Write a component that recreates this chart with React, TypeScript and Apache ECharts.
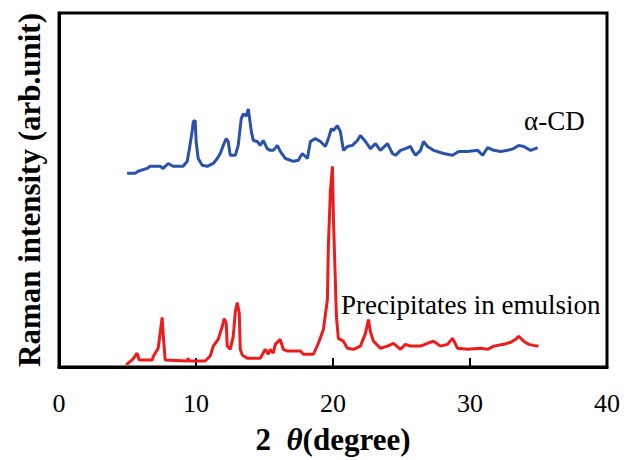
import React, { useEffect, useRef } from "react";
import * as echarts from "echarts";

const xTicks = [0, 10, 20, 30, 40];
const seriesNames = ["α-CD", "Precipitates in emulsion"];

const alphaCD: [number, number][] = [
  [4.97, 54.7], [5.56, 54.7], [5.77, 55.3], [6.43, 56.1], [6.65, 56.7], [7.38, 56.7], [7.6, 56.1],
  [7.97, 57.5], [8.33, 56.7], [9.06, 56.7], [9.36, 58.1], [9.5, 61.2], [9.72, 66.5], [9.8, 69.3],
  [9.94, 69.6], [10.01, 63.7], [10.16, 58.9], [10.45, 57.0], [10.82, 56.7], [11.26, 57.5],
  [11.55, 58.9], [11.77, 60.3], [11.99, 62.6], [12.21, 64.5], [12.35, 63.7], [12.5, 59.8],
  [12.87, 59.8], [13.08, 62.6], [13.3, 70.1], [13.45, 71.5], [13.67, 70.9], [13.82, 72.9],
  [14.04, 66.5], [14.18, 64.0], [14.47, 63.7], [14.69, 62.6], [14.91, 64.0], [15.2, 61.7],
  [15.42, 61.2], [15.64, 61.2], [15.94, 62.6], [16.15, 60.9], [16.52, 58.9], [17.11, 58.1],
  [17.47, 58.4], [17.76, 60.3], [18.13, 58.9], [18.35, 63.7], [18.71, 64.5], [19.08, 63.7],
  [19.44, 62.3], [19.66, 64.5], [19.88, 67.3], [20.03, 66.8], [20.32, 68.2], [20.54, 66.5],
  [20.76, 61.2], [21.05, 62.3], [21.42, 62.6], [21.78, 64.0], [22.0, 65.4], [22.37, 63.7],
  [22.73, 61.7], [23.1, 63.1], [23.46, 61.2], [23.98, 63.1], [24.34, 60.3], [24.56, 59.8],
  [24.93, 61.2], [25.29, 61.7], [25.66, 62.3], [25.8, 61.2], [26.02, 59.8], [26.39, 61.2],
  [26.61, 63.7], [26.9, 62.3], [27.34, 61.2], [28.07, 60.3], [28.73, 59.8], [29.17, 60.9],
  [29.82, 60.9], [30.56, 61.2], [30.92, 59.8], [31.29, 62.0], [31.73, 61.2], [32.24, 60.9],
  [32.75, 61.2], [33.19, 61.7], [33.55, 62.6], [33.92, 62.3], [34.43, 61.2], [34.94, 62.0],
];

const precipitates: [number, number][] = [
  [4.9, 0.6], [5.4, 2.2], [5.7, 3.9], [5.85, 2.0], [6.8, 2.0], [6.9, 3.1], [7.24, 5.3],
  [7.53, 14.0], [7.6, 9.5], [7.75, 2.0], [9.36, 1.7], [9.43, 2.5], [9.5, 1.7], [10.67, 1.7],
  [11.04, 3.1], [11.26, 5.9], [11.62, 7.8], [11.92, 11.5], [12.06, 13.7], [12.21, 12.3],
  [12.28, 5.9], [12.5, 5.0], [12.72, 8.7], [12.87, 15.6], [13.01, 18.2], [13.16, 15.1],
  [13.23, 5.0], [13.38, 3.4], [13.74, 2.5], [14.69, 2.5], [15.06, 5.0], [15.28, 3.6],
  [15.42, 5.0], [15.64, 3.9], [15.79, 6.4], [16.15, 7.8], [16.37, 5.0], [16.67, 4.5],
  [17.62, 4.5], [17.84, 3.6], [18.57, 3.6], [18.93, 6.7], [19.3, 10.6], [19.59, 19.0],
  [19.66, 33.8], [19.81, 49.7], [19.96, 56.7], [20.03, 42.2], [20.25, 14.2], [20.39, 8.1],
  [20.76, 7.3], [21.05, 5.3], [21.49, 5.0], [22.0, 5.9], [22.37, 9.5], [22.59, 13.4],
  [22.73, 10.0], [22.95, 7.3], [23.46, 5.3], [23.98, 5.9], [24.42, 6.7], [24.93, 5.0],
  [25.29, 6.4], [25.66, 5.9], [26.39, 5.9], [26.9, 6.7], [27.34, 7.3], [27.85, 5.9],
  [28.36, 6.4], [28.73, 8.1], [29.09, 5.3], [29.82, 5.0], [30.77, 5.3], [31.29, 5.0],
  [31.73, 5.9], [32.46, 6.4], [32.97, 7.0], [33.33, 7.8], [33.55, 8.7], [33.92, 7.3],
  [34.28, 6.4], [34.65, 6.1], [35.0, 5.9],
];

const SERIF = "'Liberation Serif', 'Times New Roman', serif";

export default function App() {
  const ref = useRef<HTMLDivElement>(null);
  useEffect(() => {
    if (!ref.current) return;
    const chart = echarts.init(ref.current, undefined, { renderer: "svg" });
    chart.setOption({
      animation: false,
      backgroundColor: "#ffffff",
      grid: {
        left: 59,
        right: 26,
        top: 13,
        bottom: 89,
        show: true,
        borderColor: "#000",
        borderWidth: 3,
        backgroundColor: "transparent",
      },
      xAxis: {
        type: "value",
        min: xTicks[0],
        max: xTicks[xTicks.length - 1],
        interval: 10,
        axisLine: { show: true, lineStyle: { color: "#000", width: 3 } },
        axisTick: { show: true, inside: true, length: 9, lineStyle: { color: "#000", width: 2 } },
        splitLine: { show: false },
        axisLabel: {
          color: "#000",
          fontFamily: SERIF,
          fontSize: 26,
          margin: 23,
        },
        name: "{a|2  }{t|θ}{a|(degree)}",
        nameLocation: "middle",
        nameGap: 57,
        nameTextStyle: {
          rich: {
            a: { fontFamily: SERIF, fontWeight: "bold", fontSize: 31, color: "#000" },
            t: { fontFamily: SERIF, fontWeight: "bold", fontStyle: "italic", fontSize: 31, color: "#000" },
          },
        },
      },
      yAxis: {
        type: "value",
        min: 0,
        max: 100,
        axisLine: { show: true, lineStyle: { color: "#000", width: 3 } },
        axisTick: { show: false },
        axisLabel: { show: false },
        splitLine: { show: false },
        name: "Raman intensity (arb.unit)",
        nameLocation: "middle",
        nameGap: 14,
        nameTextStyle: {
          fontFamily: SERIF,
          fontWeight: "bold",
          fontSize: 31,
          color: "#000",
        },
      },
      series: [
        {
          name: seriesNames[0],
          type: "line",
          data: alphaCD,
          showSymbol: false,
          lineStyle: { color: "#2a52a8", width: 3 },
          z: 3,
        },
        {
          name: seriesNames[1],
          type: "line",
          data: precipitates,
          showSymbol: false,
          lineStyle: { color: "#ec1c1c", width: 3 },
          z: 3,
        },
      ],
      graphic: [
        {
          type: "text",
          left: 524,
          top: 107,
          style: { text: seriesNames[0], fontFamily: SERIF, fontSize: 27, fill: "#000" },
        },
        {
          type: "text",
          left: 341,
          top: 291,
          style: { text: seriesNames[1], fontFamily: SERIF, fontSize: 27, fill: "#000" },
        },
      ],
    });
    return () => chart.dispose();
  }, []);
  return (
    <div
      ref={ref}
      style={{ position: "absolute", left: 0, top: 0, width: 633, height: 460 }}
    />
  );
}
